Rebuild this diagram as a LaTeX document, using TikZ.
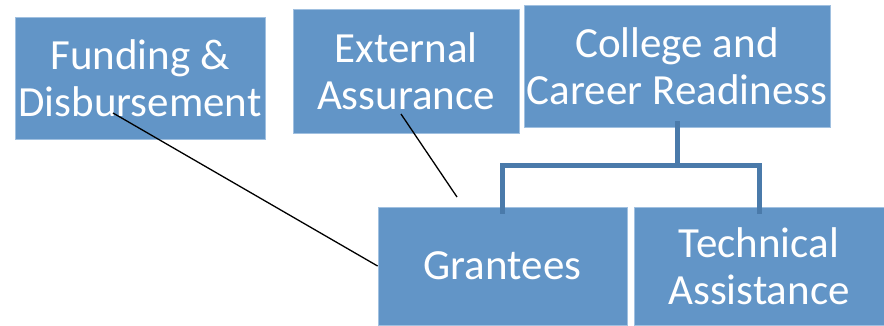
\documentclass[tikz,border=0pt]{standalone}
\usepackage{fontspec}
\setmainfont{Carlito}
\definecolor{boxblue}{RGB}{98,149,199}
\definecolor{boxedge}{RGB}{160,192,224}
\definecolor{linkblue}{RGB}{74,122,170}

\begin{document}
\begin{tikzpicture}[x=1pt, y=-1pt,
    unit/.style={draw=boxedge, line width=0.8pt, fill=boxblue, text=white, align=center,
      inner sep=0pt, font=\fontsize{43}{47}\selectfont},
    bracket/.style={draw=linkblue, line width=5pt},
    link/.style={draw=black, line width=1.3pt}]
  \useasboundingbox (0,0) rectangle (884,325);
  \node [unit, minimum width=250, minimum height=122] (fund) at (140, 78) {Funding \&\\Disbursement};
  \node [unit, minimum width=226, minimum height=124] (ext) at (406, 71) {External\\Assurance};
  \node [unit, minimum width=306, minimum height=122] (ccr) at (677, 66) {College and\\Career Readiness};
  \node [unit, minimum width=249, minimum height=118] (grant) at (502.5, 266) {Grantees};
  \node [unit, minimum width=250, minimum height=118] (tech) at (759, 266) {Technical\\Assistance};
  \coordinate (fundtail) at (113, 113);
  \coordinate (exttail) at (401, 114);
  \coordinate (granttop) at (457, 197);
  \draw [bracket] ([yshift=6]ccr.south) -- ++(0, 44) -| ([yshift=-7]grant.north);
  \draw [bracket] ([yshift=6]ccr.south) ++(0, 44) -| ([yshift=-7]tech.north);
  \draw [link] (fundtail) -- (grant.west);
  \draw [link] (exttail) -- (granttop);
\end{tikzpicture}
\end{document}
